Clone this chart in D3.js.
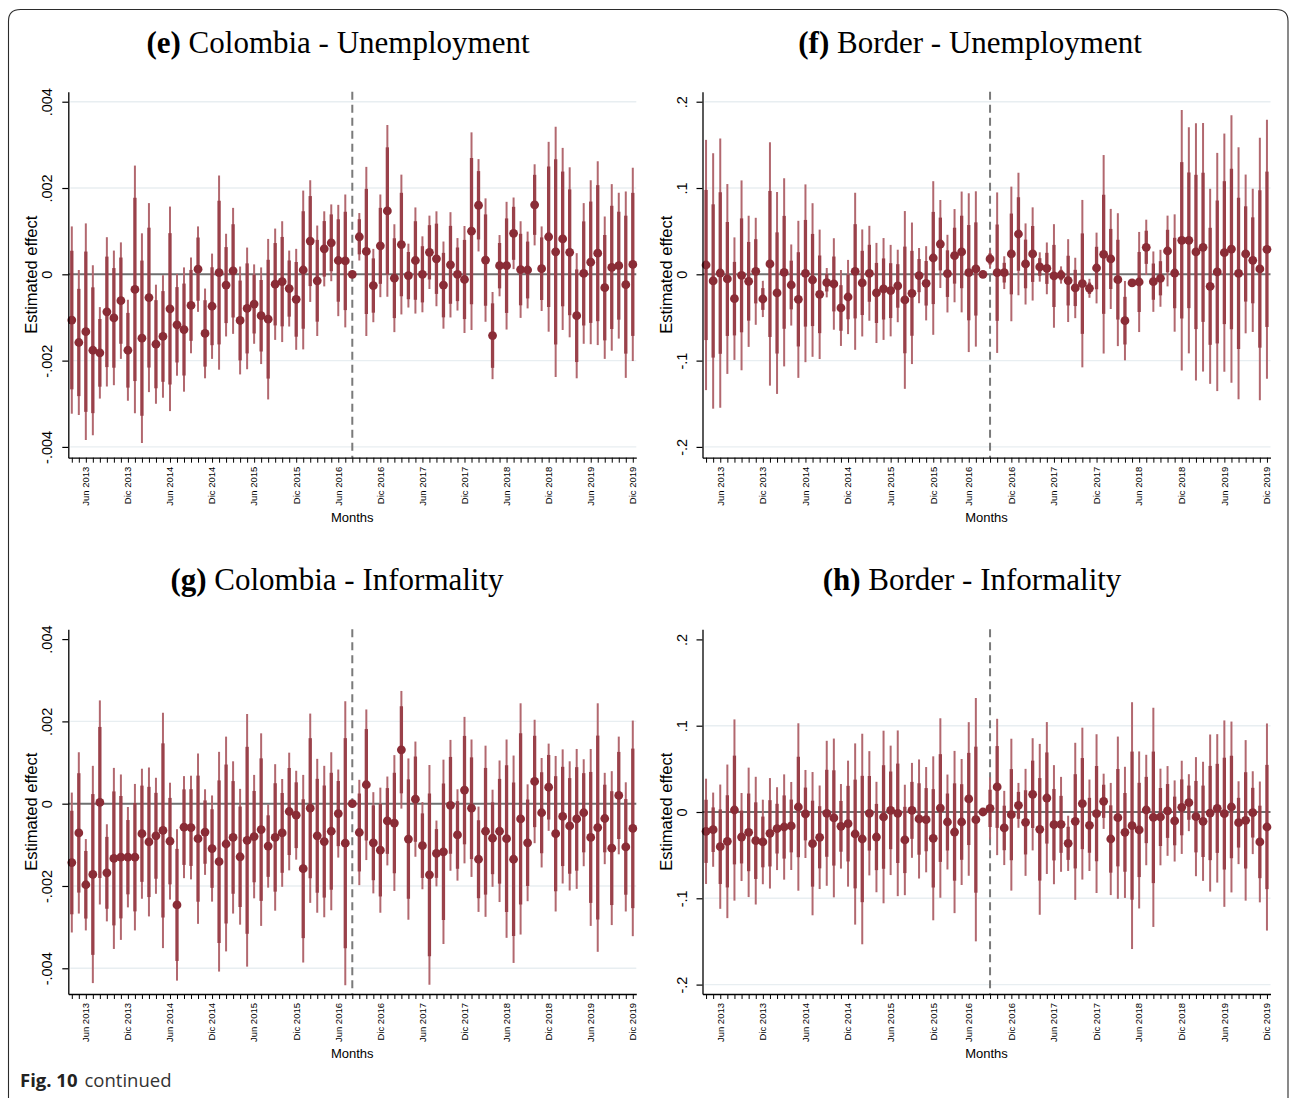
<!DOCTYPE html>
<html><head><meta charset="utf-8">
<script src="https://cdn.jsdelivr.net/npm/d3@7"></script>
<style>html,body{margin:0;padding:0;background:#fff;} svg{display:block;}</style>
</head><body>
<svg id="chart" width="1290" height="1098"></svg>
<script>
// ---------------- DATA ----------------
const colMonths = [
 "2013-04","2013-05","2013-06","2013-07","2013-08","2013-09","2013-10","2013-11","2013-12",
 "2014-01","2014-02","2014-03","2014-04","2014-05","2014-06","2014-07","2014-08","2014-09","2014-10","2014-11","2014-12",
 "2015-01","2015-02","2015-03","2015-04","2015-05","2015-06","2015-07","2015-08","2015-09","2015-10","2015-11","2015-12",
 "2016-01","2016-02","2016-03","2016-04","2016-05","2016-06","2016-07","2016-08","2016-09","2016-10","2016-11","2016-12",
 "2017-01","2017-02","2017-03","2017-04","2017-05","2017-06","2017-07","2017-08","2017-09","2017-10","2017-11","2017-12",
 "2018-01","2018-02","2018-03","2018-04","2018-05","2018-06","2018-07","2018-08","2018-09","2018-10","2018-11","2018-12",
 "2019-01","2019-02","2019-03","2019-04","2019-05","2019-06","2019-07","2019-08","2019-09","2019-10","2019-11","2019-12"];
// Border series has one month fewer (one month of early 2016 not observed)
const borMonths = [
 "2013-04","2013-05","2013-06","2013-07","2013-08","2013-09","2013-10","2013-11","2013-12",
 "2014-01","2014-02","2014-03","2014-04","2014-05","2014-06","2014-07","2014-08","2014-09","2014-10","2014-11","2014-12",
 "2015-01","2015-02","2015-03","2015-04","2015-05","2015-06","2015-07","2015-08","2015-09","2015-10","2015-11","2015-12",
 "2016-01","2016-03","2016-04","2016-05","2016-06","2016-07","2016-08","2016-09","2016-10","2016-11","2016-12",
 "2017-01","2017-02","2017-03","2017-04","2017-05","2017-06","2017-07","2017-08","2017-09","2017-10","2017-11","2017-12",
 "2018-01","2018-02","2018-03","2018-04","2018-05","2018-06","2018-07","2018-08","2018-09","2018-10","2018-11","2018-12",
 "2019-01","2019-02","2019-03","2019-04","2019-05","2019-06","2019-07","2019-08","2019-09","2019-10","2019-11","2019-12"];

const tickMonths = ["2013-06","2013-12","2014-06","2014-12","2015-06","2015-12","2016-06","2016-12",
                    "2017-06","2017-12","2018-06","2018-12","2019-06","2019-12"];
const tickLabels = ["Jun 2013","Dic 2013","Jun 2014","Dic 2014","Jun 2015","Dic 2015","Jun 2016","Dic 2016",
                    "Jun 2017","Dic 2017","Jun 2018","Dic 2018","Jun 2019","Dic 2019"];
const refLineIndex = 40;   // xline position (observation number)

const colYTicks = [-.004, -.002, 0, .002, .004];
const colYTickLabels = ["-.004", "-.002", "0", ".002", ".004"];
const borYTicks = [-.2, -.1, 0, .1, .2];
const borYTickLabels = ["-.2", "-.1", "0", ".1", ".2"];

// (e) Colombia - Unemployment : estimate and 95% CI half-width
const colUnempEst = [-.00106,-.00158,-.00133,-.00176,-.00182,-.00087,-.00101,-.00061,-.00176,-.00035,
 -.00148,-.00054,-.00162,-.00144,-.00080,-.00117,-.00128,-.00072,.00012,-.00137,
 -.00074,.00004,-.00025,.00008,-.00107,-.00079,-.00069,-.00096,-.00104,-.00023,
 -.00017,-.00033,-.00058,.00010,.00077,-.00015,.00059,.00073,.00032,.00031,
 0,.00087,.00053,-.00026,.00066,.00147,-.00009,.00069,-.00003,.00032,
 0,.00051,.00036,-.00025,.00022,0,-.00012,.00100,.00160,.00033,
 -.00142,.00020,.00020,.00095,.00011,.00010,.00161,.00013,.00087,.00052,
 .00082,.00051,-.00096,.00002,.00028,.00049,-.00031,.00016,.00020,-.00024,.00023];
const colUnempCI = [.00217,.00168,.00251,.00197,.00106,.00173,.00156,.00135,.00117,.00287,
 .00243,.00219,.00138,.00142,.00237,.00118,.00144,.00111,.00099,.00104,
 .00122,.00225,.00119,.00146,.00125,.00141,.00092,.00112,.00186,.00129,
 .00140,.00088,.00117,.00184,.00141,.00128,.00087,.00089,.00129,.00154,
 0,.00055,.00196,.00085,.00119,.00199,.00125,.00162,.00074,.00123,
 .00088,.00085,.00110,.00101,.00122,.00084,.00124,.00229,.00107,.00143,
 .00101,.00071,.00148,.00083,.00112,.00089,.00094,.00098,.00220,.00290,
 .00211,.00197,.00145,.00163,.00190,.00213,.00165,.00193,.00169,.00216,.00224];

// (f) Border - Unemployment
const borUnempEst = [.0108,-.0077,.0015,-.0054,-.0282,-.0012,-.0081,.0035,-.0286,.0120,
 -.0216,.0023,-.0124,-.0290,.0012,-.0066,-.0232,-.0097,-.0112,-.0390,
 -.0263,.0035,-.0100,.0012,-.0216,-.0170,-.0189,-.0135,-.0297,-.0220,
 -.0015,-.0104,.0189,.0351,.0008,.0216,.0259,.0019,.0062,0,
 .0178,.0019,.0019,.0236,.0467,.0120,.0236,.0085,.0069,-.0019,
 -.0008,-.0073,-.0158,-.0108,-.0162,.0073,.0232,.0178,-.0062,-.0537,
 -.0100,-.0089,.0313,-.0085,-.0046,.0270,.0015,.0394,.0394,.0259,
 .0313,-.0139,.0027,.0251,.0293,.0012,.0236,.0162,.0062,.0290];
const borUnempCI = [.145,.148,.156,.110,.071,.110,.076,.062,.021,.141,
 .117,.109,.047,.091,.103,.089,.075,.017,.053,.044,
 .043,.091,.062,.055,.058,.059,.053,.042,.103,.082,
 .032,.043,.089,.051,.045,.054,.070,.092,.090,0,
 .0106,.093,.019,.078,.071,.047,.054,.017,.030,.060,
 .010,.048,.035,.097,.011,.041,.115,.058,.077,.046,
 .003,.058,.032,.035,.033,.041,.068,.151,.131,.149,
 .144,.113,.138,.138,.155,.146,.092,.083,.152,.150];

// (g) Colombia - Informality
const colInfEst = [-.00143,-.00071,-.00197,-.00172,.00003,-.00168,-.00133,-.00130,-.00130,-.00130,
 -.00073,-.00093,-.00078,-.00065,-.00091,-.00246,-.00057,-.00058,-.00085,-.00069,
 -.00109,-.00141,-.00098,-.00082,-.00129,-.00089,-.00080,-.00063,-.00103,-.00082,
 -.00071,-.00019,-.00028,-.00158,-.00011,-.00078,-.00092,-.00067,-.00024,-.00096,
 0,-.00070,.00046,-.00095,-.00113,-.00042,-.00047,.00131,-.00086,.00011,
 -.00102,-.00173,-.00121,-.00117,-.00004,-.00076,.00033,-.00011,-.00135,-.00067,
 -.00084,-.00067,-.00085,-.00135,-.00037,-.00095,.00054,-.00022,.00040,-.00073,
 -.00031,-.00054,-.00037,-.00022,-.00082,-.00058,-.00036,-.00108,.00020,-.00105,-.00060];
const colInfCI = [.00170,.00196,.00111,.00264,.00248,.00118,.00220,.00201,.00122,.00178,
 .00158,.00181,.00141,.00286,.00142,.00184,.00124,.00126,.00207,.00104,
 .00129,.00267,.00261,.00185,.00165,.00307,.00150,.00234,.00101,.00178,
 .00131,.00143,.00108,.00228,.00230,.00187,.00184,.00192,.00107,.00345,
 0,.00128,.00183,.00123,.00152,.00108,.00165,.00143,.00196,.00140,
 .00106,.00267,.00080,.00224,.00159,.00111,.00178,.00167,.00128,.00208,
 .00118,.00172,.00241,.00252,.00281,.00142,.00150,.00133,.00106,.00189,
 .00163,.00157,.00170,.00130,.00215,.00302,.00111,.00187,.00143,.00157,.00262];

// (h) Border - Informality
const borInfEst = [-.0224,-.0205,-.0402,-.0340,.0023,-.0290,-.0236,-.0332,-.0347,-.0247,
 -.0193,-.0174,-.0162,.0058,-.0023,-.0367,-.0293,-.0015,-.0069,-.0166,
 -.0135,-.0255,-.0313,-.0015,-.0290,-.0058,.0019,-.0015,-.0324,.0019,
 -.0081,-.0089,-.0305,.0046,-.0116,-.0232,-.0116,.0151,-.0089,0,
 .0042,.0290,-.0185,-.0031,.0077,-.0120,.0205,-.0201,.0162,-.0147,
 -.0143,-.0363,-.0108,.0097,-.0154,-.0019,.0124,-.0313,-.0066,-.0236,
 -.0158,-.0208,.0023,-.0062,-.0058,.0012,-.0104,.0054,.0108,-.0054,
 -.0108,-.0012,.0042,-.0019,.0058,-.0124,-.0097,-.0008,-.0347,-.0174];
const borInfCI = [.061,.043,.072,.089,.105,.051,.075,.074,.049,.064,
 .048,.061,.051,.097,.051,.083,.060,.084,.092,.049,
 .073,.105,.122,.072,.064,.100,.075,.096,.064,.055,
 .069,.061,.095,.104,.055,.094,.073,.089,.141,0,
 .036,.079,.043,.088,.026,.062,.065,.099,.088,.069,
 .055,.032,.091,.088,.053,.092,.032,.065,.094,.076,
 .143,.091,.064,.127,.056,.052,.047,.054,.033,.069,
 .069,.091,.086,.108,.099,.048,.093,.048,.070,.120];

// ---------------- LAYOUT / STYLE ----------------
const COL = {dot: "#8a2c36", inner: "#9a414a", outer: "#b2686f", zero: "#707070", dash: "#7a7a7a",
             grid: "#e8eef1", axis: "#000"};
const PLOT_W = 568;
const SANS = "'Liberation Sans', Arial, sans-serif";

const panels = [
  {tag: "(e)", title: " Colombia - Unemployment", tx: 338, ty: 53,
   months: colMonths, est: colUnempEst, ci: colUnempCI, innerRatio: 0.74,
   left: 68.3, top: 91.7, bottom: 457.7, yDomain: [-.00425, .004232],
   yTicks: colYTicks, yTickLabels: colYTickLabels, grid: [-.004, -.002, .002, .004]},
  {tag: "(f)", title: " Border - Unemployment", tx: 970, ty: 53,
   months: borMonths, est: borUnempEst, ci: borUnempCI, innerRatio: 0.60,
   left: 702.5, top: 91.7, bottom: 457.7, yDomain: [-.2125, .2116],
   yTicks: borYTicks, yTickLabels: borYTickLabels, grid: [-.2, -.1, .1, .2]},
  {tag: "(g)", title: " Colombia - Informality", tx: 337, ty: 590,
   months: colMonths, est: colInfEst, ci: colInfCI, innerRatio: 0.74,
   left: 68.3, top: 629.3, bottom: 994, yDomain: [-.004625, .004238],
   yTicks: colYTicks, yTickLabels: colYTickLabels, grid: [-.004, -.002, .002]},
  {tag: "(h)", title: " Border - Informality", tx: 972, ty: 590,
   months: borMonths, est: borInfEst, ci: borInfCI, innerRatio: 0.60,
   left: 702.5, top: 629.3, bottom: 994, yDomain: [-.2109, .2117],
   yTicks: borYTicks, yTickLabels: borYTickLabels, grid: [-.2, -.1, .1]}
];

const svg = d3.select("#chart");
svg.append("rect").attr("width", 1290).attr("height", 1098).attr("fill", "#fff");

// outer rounded frame
svg.append("path")
  .attr("d", "M8.5,1100 L8.5,21 Q8.5,9.5 20.5,9.5 L1276,9.5 Q1288,9.5 1288,21 L1288,1100")
  .attr("fill", "none").attr("stroke", "#2b2b2b").attr("stroke-width", 1.1);

function drawPanel(p) {
  const n = p.months.length;
  const x = d3.scaleLinear().domain([-0.5, n - 0.5]).range([p.left, p.left + PLOT_W]);
  const y = d3.scaleLinear().domain(p.yDomain).range([p.bottom, p.top]);
  const g = svg.append("g");
  const right = p.left + PLOT_W;

  // gridlines
  g.selectAll(".grid").data(p.grid).join("line")
    .attr("x1", p.left + 2).attr("x2", right)
    .attr("y1", d => y(d)).attr("y2", d => y(d))
    .attr("stroke", COL.grid).attr("stroke-width", 1.4);

  // zero line
  g.append("line").attr("x1", p.left).attr("x2", right)
    .attr("y1", y(0)).attr("y2", y(0))
    .attr("stroke", COL.zero).attr("stroke-width", 2);

  // reference dashed line
  g.append("line").attr("x1", x(refLineIndex)).attr("x2", x(refLineIndex))
    .attr("y1", p.top).attr("y2", p.bottom)
    .attr("stroke", COL.dash).attr("stroke-width", 2).attr("stroke-dasharray", "8,5");

  const data = p.est.map((e, i) => ({i, e, c: p.ci[i]}));
  const withCI = data.filter(d => d.c > 0);

  g.selectAll(".outer").data(withCI).join("line")
    .attr("x1", d => x(d.i)).attr("x2", d => x(d.i))
    .attr("y1", d => y(d.e - d.c)).attr("y2", d => y(d.e + d.c))
    .attr("stroke", COL.outer).attr("stroke-width", 2);
  g.selectAll(".inner").data(withCI).join("line")
    .attr("x1", d => x(d.i)).attr("x2", d => x(d.i))
    .attr("y1", d => y(d.e - d.c * p.innerRatio)).attr("y2", d => y(d.e + d.c * p.innerRatio))
    .attr("stroke", COL.inner).attr("stroke-width", 3.3);
  g.selectAll(".dot").data(data).join("circle")
    .attr("cx", d => x(d.i)).attr("cy", d => y(d.e)).attr("r", 4.4)
    .attr("fill", COL.dot);

  // Y axis
  const ya = g.append("g").attr("transform", `translate(${p.left},0)`)
    .call(d3.axisLeft(y).tickValues(p.yTicks).tickSize(6).tickSizeOuter(0)
      .tickFormat((d, i) => p.yTickLabels[i]));
  ya.select(".domain").attr("stroke", COL.axis).attr("stroke-width", 1.3);
  ya.selectAll(".tick line").attr("stroke", COL.axis).attr("stroke-width", 1.2);
  ya.selectAll(".tick text")
    .attr("transform", "rotate(-90)").attr("x", 0).attr("y", -16).attr("dy", 0)
    .attr("text-anchor", "middle")
    .style("font-family", SANS).style("font-size", "14.5px")
    .attr("fill", "#000");

  // X axis
  const xa = g.append("g").attr("transform", `translate(0,${p.bottom})`)
    .call(d3.axisBottom(x).tickValues(d3.range(n)).tickSize(5).tickSizeOuter(0).tickFormat(""));
  xa.select(".domain").attr("stroke", COL.axis).attr("stroke-width", 1.3);
  xa.selectAll(".tick line").attr("stroke", COL.axis).attr("stroke-width", 1);

  tickMonths.forEach((m, k) => {
    const i = p.months.indexOf(m);
    if (i < 0) return;
    g.append("text")
      .attr("transform", `translate(${x(i)},${p.bottom + 9}) rotate(-90)`)
      .attr("text-anchor", "end").attr("dy", "0.35em")
      .style("font-family", SANS).style("font-size", "9.5px")
      .text(tickLabels[k]);
  });

  // axis titles
  g.append("text")
    .attr("x", (p.left + right) / 2).attr("y", p.bottom + 64)
    .attr("text-anchor", "middle")
    .style("font-family", SANS).style("font-size", "13px")
    .text("Months");
  g.append("text")
    .attr("transform", `translate(${p.left - 31},${(p.top + p.bottom) / 2}) rotate(-90)`)
    .attr("text-anchor", "middle")
    .style("font-family", SANS).style("font-size", "16.5px")
    .text("Estimated effect");

  // panel title
  const t = svg.append("text").attr("x", p.tx).attr("y", p.ty).attr("text-anchor", "middle")
    .style("font-family", "'Liberation Serif', 'DejaVu Serif', serif").style("font-size", "31px");
  t.append("tspan").style("font-weight", "bold").text(p.tag);
  t.append("tspan").text(p.title);
}

panels.forEach(drawPanel);

// caption
const cap = svg.append("text").attr("x", 20).attr("y", 1087)
  .style("font-family", "'Open Sans', 'Noto Sans', sans-serif").style("font-size", "18.5px").attr("fill", "#222");
cap.append("tspan").style("font-weight", "bold").text("Fig. 10");
cap.append("tspan").attr("dx", 7).attr("fill", "#333").text("continued");
</script>
</body></html>
